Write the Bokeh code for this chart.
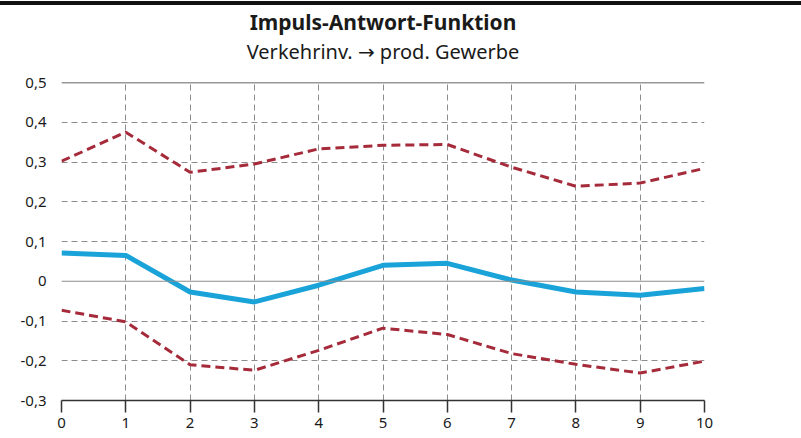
from bokeh.plotting import figure
from bokeh.models import Range1d, FixedTicker, Span, LabelSet, ColumnDataSource, Title
from bokeh.embed import file_html
from bokeh.resources import INLINE

# ---- data ----
lags = [0, 1, 2, 3, 4, 5, 6, 7, 8, 9, 10]
irf = [0.071, 0.065, -0.027, -0.052, -0.010, 0.040, 0.045, 0.003, -0.027, -0.035, -0.018]
upper = [0.302, 0.375, 0.274, 0.295, 0.333, 0.342, 0.344, 0.287, 0.239, 0.247, 0.284]
lower = [-0.073, -0.102, -0.210, -0.224, -0.174, -0.118, -0.134, -0.182, -0.209, -0.231, -0.201]

y_ticks = [-0.3, -0.2, -0.1, 0.0, 0.1, 0.2, 0.3, 0.4, 0.5]
y_tick_labels = ["-0,3", "-0,2", "-0,1", "0", "0,1", "0,2", "0,3", "0,4", "0,5"]
x_ticks = [0, 1, 2, 3, 4, 5, 6, 7, 8, 9, 10]
grid_y = [-0.2, -0.1, 0.1, 0.2, 0.3, 0.4]
grid_x = [1, 2, 3, 4, 5, 6, 7, 8, 9]

title_text = "Impuls-Antwort-Funktion"
subtitle_text = "Verkehrinv. \u2192 prod. Gewerbe"

FONT = "Noto Sans"
TXT = "#1a1a1a"
BLUE = "#1aa3d9"
RED = "#a52a3a"
GRID = "#8c8c8c"

p = figure(width=801, height=433, output_backend="svg", toolbar_location=None,
           x_range=Range1d(0, 10), y_range=Range1d(-0.3, 0.5),
           min_border_left=61, min_border_right=97, min_border_top=77, min_border_bottom=38,
           title=title_text)
p.styles = {"margin-top": "1px", "border-top": "4px solid #111111"}

p.title.text_font = FONT
p.title.text_font_size = "21px"
p.title.text_font_style = "bold"
p.title.text_color = TXT
p.title.align = "center"
p.title.standoff = 0

# spacer below the subtitle (closest to the frame), then the subtitle
spacer = Title(text=" ", text_font_size="1px", standoff=15)
p.add_layout(spacer, "above")
sub = Title(text=subtitle_text, text_font="'Noto Sans', 'DejaVu Sans'", text_font_size="20px",
            text_font_style="normal", text_color=TXT, align="center", standoff=0)
p.add_layout(sub, "above")

p.outline_line_color = None
p.background_fill_color = "white"
p.border_fill_color = "white"

# grids
p.xgrid.ticker = FixedTicker(ticks=grid_x)
p.ygrid.ticker = FixedTicker(ticks=grid_y)
for g in (p.xgrid, p.ygrid):
    g.grid_line_color = GRID
    g.grid_line_dash = "6 4"
    g.grid_line_width = 1

p.add_layout(Span(location=0, dimension="width", line_color=GRID, line_width=1.2))
p.add_layout(Span(location=0.5, dimension="width", line_color="#333333", line_width=1.5))

# x axis
xa = p.xaxis[0]
xa.ticker = FixedTicker(ticks=x_ticks)
xa.axis_line_color = "#333333"
xa.axis_line_width = 1.5
xa.major_tick_line_color = "#333333"
xa.major_tick_line_width = 1.5
xa.major_tick_out = 12
xa.major_tick_in = 0
xa.minor_tick_line_color = None
xa.major_label_text_font = FONT
xa.major_label_text_font_size = "15px"
xa.major_label_text_color = TXT
xa.major_label_standoff = 5

# y axis left
ya = p.yaxis[0]
ya.ticker = FixedTicker(ticks=y_ticks)
ya.major_label_overrides = {t: l for t, l in zip(y_ticks, y_tick_labels)}
ya.axis_line_color = None
ya.major_tick_line_color = None
ya.minor_tick_line_color = None
ya.major_tick_out = 0
ya.major_tick_in = 0
ya.major_label_standoff = 15
ya.major_label_text_font = FONT
ya.major_label_text_font_size = "15px"
ya.major_label_text_color = TXT

# right labels (right-aligned)
rsrc = ColumnDataSource(dict(x=[x_ticks[-1]] * len(y_ticks), y=y_ticks, t=y_tick_labels))
p.add_layout(LabelSet(x="x", y="y", text="t", source=rsrc, x_offset=43,
                      text_align="right", text_baseline="middle",
                      text_font=FONT, text_font_size="15px", text_color=TXT))

# series
p.line(lags, upper, line_color=RED, line_width=3, line_dash="9 5")
p.line(lags, lower, line_color=RED, line_width=3, line_dash="9 5")
p.line(lags, irf, line_color=BLUE, line_width=5)

open("out.html", "w").write(file_html(p, INLINE))
